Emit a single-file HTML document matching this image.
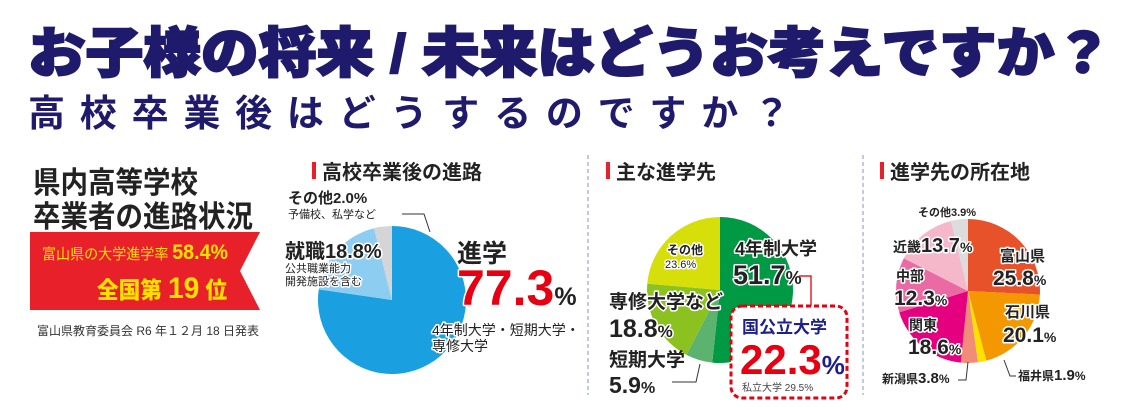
<!DOCTYPE html>
<html><head><meta charset="utf-8"><style>
html,body{margin:0;padding:0;background:#fff;}
svg{display:block;}
text{font-family:"Liberation Sans","Noto Sans CJK JP",sans-serif;}
.o{paint-order:stroke;stroke:#fff;stroke-width:3px;stroke-linejoin:round;}
</style></head><body>
<svg width="1141" height="410" viewBox="0 0 1141 410" xmlns="http://www.w3.org/2000/svg">
<rect width="1141" height="410" fill="#fff"/>
<text x="28" y="72" font-size="54" font-weight="900" fill="#1f1a6b" textLength="1084" lengthAdjust="spacingAndGlyphs" stroke="#1f1a6b" stroke-width="2">お子様の将来 / 未来はどうお考えですか？</text>
<text x="28" y="126" font-size="37" font-weight="700" fill="#1f1a6b" textLength="762" lengthAdjust="spacing">高校卒業後はどうするのですか？</text>

<text x="33" y="193" font-size="30" font-weight="700" fill="#222" textLength="165" lengthAdjust="spacingAndGlyphs">県内高等学校</text>
<text x="33" y="227" font-size="30" font-weight="700" fill="#222" textLength="220" lengthAdjust="spacingAndGlyphs">卒業者の進路状況</text>
<polygon points="30,232 260,232 240,271 260,310 30,310" fill="#e8202a"/>
<text x="42" y="259" font-size="15" fill="#ffe100" textLength="186" lengthAdjust="spacingAndGlyphs">富山県の大学進学率 <tspan font-size="21" font-weight="700">58.4%</tspan></text>
<text x="97" y="298" font-size="23" font-weight="900" fill="#ffe100" textLength="130" lengthAdjust="spacingAndGlyphs">全国第 <tspan font-size="30">19</tspan> 位</text>
<text x="37" y="335" font-size="12" fill="#333">富山県教育委員会 R6 年１２月 18 日発表</text>

<line x1="588" y1="155" x2="588" y2="395" stroke="#8890c8" stroke-dasharray="4,3"/>
<line x1="863" y1="155" x2="863" y2="395" stroke="#8890c8" stroke-dasharray="4,3"/>

<rect x="312" y="162" width="4" height="17" fill="#e8202a"/>
<text x="322" y="179" font-size="20" font-weight="700" fill="#222">高校卒業後の進路</text>
<rect x="606" y="162" width="4" height="17" fill="#e8202a"/>
<text x="616" y="179" font-size="20" font-weight="700" fill="#222">主な進学先</text>
<rect x="880" y="162" width="4" height="17" fill="#e8202a"/>
<text x="890" y="179" font-size="20" font-weight="700" fill="#222">進学先の所在地</text>

<path d="M392,300 L392,226 A74,74 0 1 1 318.77,289.34 Z" fill="#1a9fe0"/>
<path d="M392,300 L318.77,289.34 A74,74 0 0 1 374.05,228.21 Z" fill="#8dcdf2"/>
<path d="M392,300 L374.05,228.21 A74,74 0 0 1 392,226 Z" fill="#d5d5d5"/>

<path d="M720,290 L720,217 A73,73 0 1 1 712.22,362.58 Z" fill="#009944"/>
<path d="M720,290 L712.22,362.58 A73,73 0 0 1 686.45,354.83 Z" fill="#5cb36f"/>
<path d="M720,290 L686.45,354.83 A73,73 0 0 1 647.28,283.59 Z" fill="#8cc21f"/>
<path d="M720,290 L647.28,283.59 A73,73 0 0 1 720,217 Z" fill="#d7df0a"/>

<path d="M968,291 L968,219 A72,72 0 0 1 1039.9,294.6 Z" fill="#e8522a"/>
<path d="M968,291 L1039.9,294.6 A72,72 0 0 1 986.3,360.6 Z" fill="#f39800"/>
<path d="M968,291 L986.3,360.6 A72,72 0 0 1 977.9,362.3 Z" fill="#ffe100"/>
<path d="M968,291 L977.9,362.3 A72,72 0 0 1 960.8,362.6 Z" fill="#f08c78"/>
<path d="M968,291 L960.8,362.6 A72,72 0 0 1 899.25,312.4 Z" fill="#e4007f"/>
<path d="M968,291 L899.25,312.4 A72,72 0 0 1 903.8,258.3 Z" fill="#ea6aa4"/>
<path d="M968,291 L903.8,258.3 A72,72 0 0 1 951.0,221.0 Z" fill="#f5b8cb"/>
<path d="M968,291 L951.0,221.0 A72,72 0 0 1 968,219 Z" fill="#dcdcdc"/>

<g fill="#222" font-weight="700">
<text x="288" y="203" font-size="15">その他2.0%</text>
<text x="288" y="218" font-size="11" font-weight="400">予備校、私学など</text>
<polyline points="402,214 424,214 430,232" fill="none" stroke="#333"/>
<text x="285" y="258" font-size="20" class="o">就職18.8%</text>
<text x="285" y="272" font-size="11" font-weight="400" class="o">公共職業能力</text>
<text x="285" y="285" font-size="11" font-weight="400" class="o">開発施設を含む</text>
<text x="457" y="262" font-size="25" class="o">進学</text>
<text x="457" y="305" font-size="50" fill="#e60012" class="o" font-weight="900">77.3<tspan font-size="25" fill="#222">%</tspan></text>
<text x="432" y="335" font-size="14" font-weight="400" class="o">4年制大学・短期大学・</text>
<text x="432" y="351" font-size="14" font-weight="400" class="o">専修大学</text>

<text x="667" y="254" font-size="12" class="o">その他</text>
<text x="665" y="268" font-size="11" font-weight="400" class="o">23.6%</text>
<text x="735" y="255" font-size="18" class="o">4年制大学</text>
<text x="733" y="284" font-size="27" class="o">51.7<tspan font-size="18">%</tspan></text>
<polyline points="799,276 811,276 811,306" fill="none" stroke="#e8202a" stroke-width="1.5"/>
<rect x="731" y="306" width="116" height="92" rx="11" fill="#fff" stroke="#e60012" stroke-width="3" stroke-dasharray="5,3"/>
<text x="742" y="333" font-size="17" fill="#1d2088">国公立大学</text>
<text x="740" y="374" font-size="42" fill="#e60012" font-weight="900">22.3<tspan font-size="26" fill="#1d2088">%</tspan></text>
<text x="742" y="391" font-size="10" font-weight="400" fill="#444">私立大学 29.5%</text>
<text x="609" y="308" font-size="19" class="o">専修大学など</text>
<text x="609" y="337" font-size="25" class="o">18.8<tspan font-size="17">%</tspan></text>
<text x="609" y="366" font-size="19">短期大学</text>
<text x="609" y="393" font-size="23">5.9<tspan font-size="16">%</tspan></text>
<polyline points="672,382 696,382 700,364" fill="none" stroke="#333"/>

<text x="918" y="216" font-size="11" class="o">その他3.9%</text>
<text x="893" y="252" font-size="14" class="o">近畿<tspan font-size="20">13.7</tspan><tspan font-size="14">%</tspan></text>
<text x="896" y="281" font-size="14" class="o">中部</text>
<text x="894" y="305" font-size="21" class="o">12.3<tspan font-size="14">%</tspan></text>
<text x="909" y="330" font-size="14" class="o">関東</text>
<text x="908" y="354" font-size="21" class="o">18.6<tspan font-size="14">%</tspan></text>
<text x="1000" y="261" font-size="15" class="o">富山県</text>
<text x="993" y="285" font-size="21" class="o">25.8<tspan font-size="14">%</tspan></text>
<text x="1005" y="317" font-size="15" class="o">石川県</text>
<text x="1003" y="342" font-size="21" class="o">20.1<tspan font-size="14">%</tspan></text>
<text x="882" y="383" font-size="12">新潟県<tspan font-size="15">3.8</tspan>%</text>
<polyline points="958,380 966,380 968,362" fill="none" stroke="#333"/>
<text x="1018" y="380" font-size="12">福井県<tspan font-size="15">1.9</tspan>%</text>
<polyline points="1016,376 1010,376 1004,360" fill="none" stroke="#333"/>
</g>
</svg>
</body></html>
